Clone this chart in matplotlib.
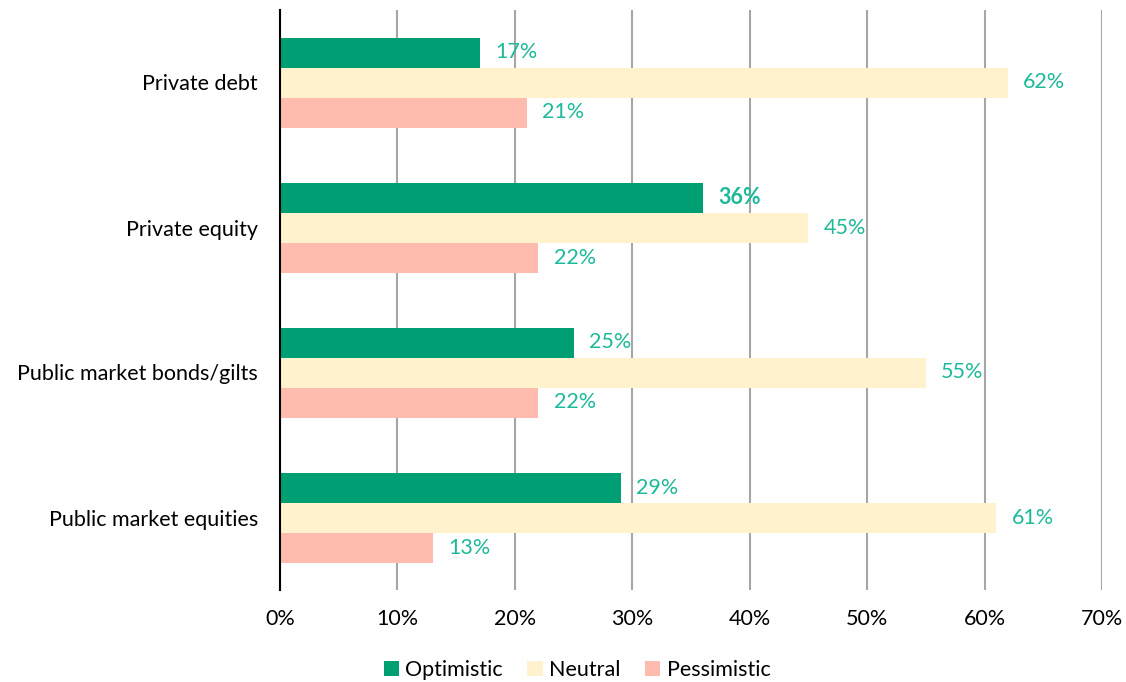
import matplotlib.pyplot as plt
import numpy as np

plt.rcParams['font.family'] = ['Lato', 'DejaVu Sans']

categories = ['Private debt', 'Private equity', 'Public market bonds/gilts', 'Public market equities']
optimistic = [17, 36, 25, 29]
neutral = [62, 45, 55, 61]
pessimistic = [21, 22, 22, 13]
series_names = ['Optimistic', 'Neutral', 'Pessimistic']
colors = ['#009E73', '#FFF2CC', '#FFBCAE']
label_color = '#1DB99A'
fs = 15.5

fig = plt.figure(figsize=(11.26, 6.82), dpi=100)
ax = fig.add_axes([280/1126, 1-590/682, 822/1126, 580/682])

y = np.arange(len(categories))
h = 30/145
series = [optimistic, neutral, pessimistic]
for k, (vals, col, name) in enumerate(zip(series, colors, series_names)):
    ypos = y + (k - 1) * h
    ax.barh(ypos, vals, height=h, color=col, label=name, zorder=3)
    for yy, v in zip(ypos, vals):
        bold = (k == 0 and v == 36)
        ax.annotate(f'{v}%', (v, yy), xytext=(11, 0), textcoords='offset points',
                    va='center', ha='left', color=label_color, fontsize=fs,
                    fontweight='bold' if bold else 'normal')

ax.set_ylim(len(categories) - 0.5, -0.5)
ax.set_xlim(0, 70)
ax.set_yticks(y)
ax.set_yticklabels(categories, fontsize=fs)
ax.set_xticks(range(0, 71, 10))
ax.set_xticklabels([f'{t}%' for t in range(0, 71, 10)], fontsize=fs)
ax.tick_params(length=0, pad=14, axis='x')
ax.tick_params(length=0, pad=16, axis='y')
ax.grid(axis='x', color='#A6A6A6', linewidth=1.5, zorder=0)
for s in ['top', 'right', 'bottom']:
    ax.spines[s].set_visible(False)
ax.spines['left'].set_color('black')
ax.spines['left'].set_linewidth(1.5)
ax.spines['left'].set_zorder(4)

fig.legend(loc='center', bbox_to_anchor=(577/1126, 1-670/682), ncol=3, frameon=False,
           fontsize=fs, handlelength=0.7, handleheight=0.7, handletextpad=0.3,
           columnspacing=1.15)

fig.savefig('out.png', dpi=100)
